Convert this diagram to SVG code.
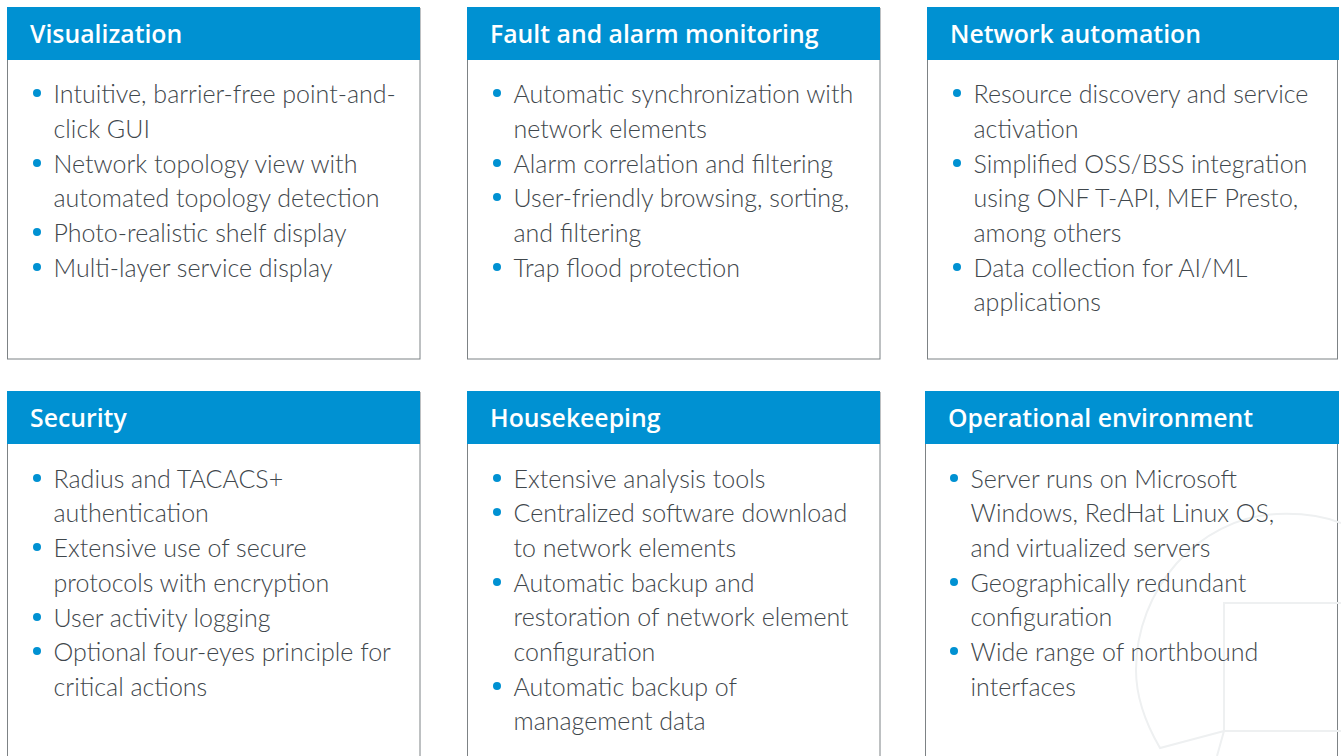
<svg xmlns="http://www.w3.org/2000/svg" width="1341" height="756" viewBox="0 0 1341 756">
<style>
.box{fill:#fff;stroke:#7d8285;stroke-width:1}
.hd{fill:#0091d2}
.t{font-family:"Lato","Noto Sans","Liberation Sans",sans-serif;font-size:25px;font-weight:300;fill:#3f474c}
.h{font-family:"Open Sans","Noto Sans","Liberation Sans",sans-serif;font-size:24.800px;font-weight:600;fill:#fff}
.b{fill:#0091d2}
.d{fill:none;stroke:#eef0f1;stroke-width:2}
</style>
<rect width="1341" height="756" fill="#fff"/>
<g id="n1"><rect class="box" x="7.500" y="8.500" width="412.500" height="350.500"/><rect class="hd" x="7" y="7" width="413" height="53"/><text class="h" x="30" y="43">Visualization</text>
<circle class="b" cx="37" cy="93" r="4"/><text class="t" x="53.500" y="103">Intuitive, barrier-free point-and-</text><text class="t" x="53.500" y="138">click GUI</text>
<circle class="b" cx="37" cy="163" r="4"/><text class="t" x="53.500" y="173">Network topology view with</text><text class="t" x="53.500" y="207">automated topology detection</text>
<circle class="b" cx="37" cy="232" r="4"/><text class="t" x="53.500" y="242">Photo-realistic shelf display</text>
<circle class="b" cx="37" cy="267" r="4"/><text class="t" x="53.500" y="277">Multi-layer service display</text></g>
<g id="n2"><rect class="box" x="467.500" y="8.500" width="412.500" height="350.500"/><rect class="hd" x="467" y="7" width="413" height="53"/><text class="h" x="490" y="43">Fault and alarm monitoring</text>
<circle class="b" cx="497" cy="93" r="4"/><text class="t" x="513.500" y="103">Automatic synchronization with</text><text class="t" x="513.500" y="138">network elements</text>
<circle class="b" cx="497" cy="163" r="4"/><text class="t" x="513.500" y="173">Alarm correlation and filtering</text>
<circle class="b" cx="497" cy="197" r="4"/><text class="t" x="513.500" y="207">User-friendly browsing, sorting,</text><text class="t" x="513.500" y="242">and filtering</text>
<circle class="b" cx="497" cy="267" r="4"/><text class="t" x="513.500" y="277">Trap flood protection</text></g>
<g id="n3"><rect class="box" x="927.500" y="8.500" width="410" height="350.500"/><rect class="hd" x="927" y="7" width="412" height="53"/><text class="h" x="950" y="43">Network automation</text>
<circle class="b" cx="957" cy="93" r="4"/><text class="t" x="973.500" y="103">Resource discovery and service</text><text class="t" x="973.500" y="138">activation</text>
<circle class="b" cx="957" cy="163" r="4"/><text class="t" x="973.500" y="173">Simplified OSS/BSS integration</text><text class="t" x="973.500" y="207">using ONF T-API, MEF Presto,</text><text class="t" x="973.500" y="242">among others</text>
<circle class="b" cx="957" cy="267" r="4"/><text class="t" x="973.500" y="277">Data collection for AI/ML</text><text class="t" x="973.500" y="311">applications</text></g>
<g id="n4"><rect class="box" x="7.500" y="392.500" width="412.500" height="370"/><rect class="hd" x="7" y="391" width="413" height="53"/><text class="h" x="30" y="427">Security</text>
<circle class="b" cx="37" cy="478" r="4"/><text class="t" x="53.500" y="488">Radius and TACACS+</text><text class="t" x="53.500" y="522">authentication</text>
<circle class="b" cx="37" cy="547" r="4"/><text class="t" x="53.500" y="557">Extensive use of secure</text><text class="t" x="53.500" y="592">protocols with encryption</text>
<circle class="b" cx="37" cy="617" r="4"/><text class="t" x="53.500" y="627">User activity logging</text>
<circle class="b" cx="37" cy="651" r="4"/><text class="t" x="53.500" y="661">Optional four-eyes principle for</text><text class="t" x="53.500" y="696">critical actions</text></g>
<g id="n5"><rect class="box" x="467.500" y="392.500" width="412.500" height="370"/><rect class="hd" x="467" y="391" width="413" height="53"/><text class="h" x="490" y="427">Housekeeping</text>
<circle class="b" cx="497" cy="478" r="4"/><text class="t" x="513.500" y="488">Extensive analysis tools</text>
<circle class="b" cx="497" cy="512" r="4"/><text class="t" x="513.500" y="522">Centralized software download</text><text class="t" x="513.500" y="557">to network elements</text>
<circle class="b" cx="497" cy="582" r="4"/><text class="t" x="513.500" y="592">Automatic backup and</text><text class="t" x="513.500" y="626">restoration of network element</text><text class="t" x="513.500" y="661">configuration</text>
<circle class="b" cx="497" cy="686" r="4"/><text class="t" x="513.500" y="696">Automatic backup of</text><text class="t" x="513.500" y="730">management data</text></g>
<g id="n6"><rect class="box" x="925.500" y="392.500" width="412" height="370"/><rect class="hd" x="925" y="391" width="414" height="53"/>
<g id="decor"><path class="d" d="M1341 523C1323 516 1300 513 1277 514C1197 518 1136 590 1136 670C1136 698 1146 724 1160 748L1224 731H1341M1224 731V603H1341M1224 731L1217 756"/></g>
<text class="h" x="948" y="427">Operational environment</text>
<circle class="b" cx="954" cy="478" r="4"/><text class="t" x="970.500" y="488">Server runs on Microsoft</text><text class="t" x="970.500" y="522">Windows, RedHat Linux OS,</text><text class="t" x="970.500" y="557">and virtualized servers</text>
<circle class="b" cx="954" cy="582" r="4"/><text class="t" x="970.500" y="592">Geographically redundant</text><text class="t" x="970.500" y="626">configuration</text>
<circle class="b" cx="954" cy="651" r="4"/><text class="t" x="970.500" y="661">Wide range of northbound</text><text class="t" x="970.500" y="696">interfaces</text></g>
</svg>
